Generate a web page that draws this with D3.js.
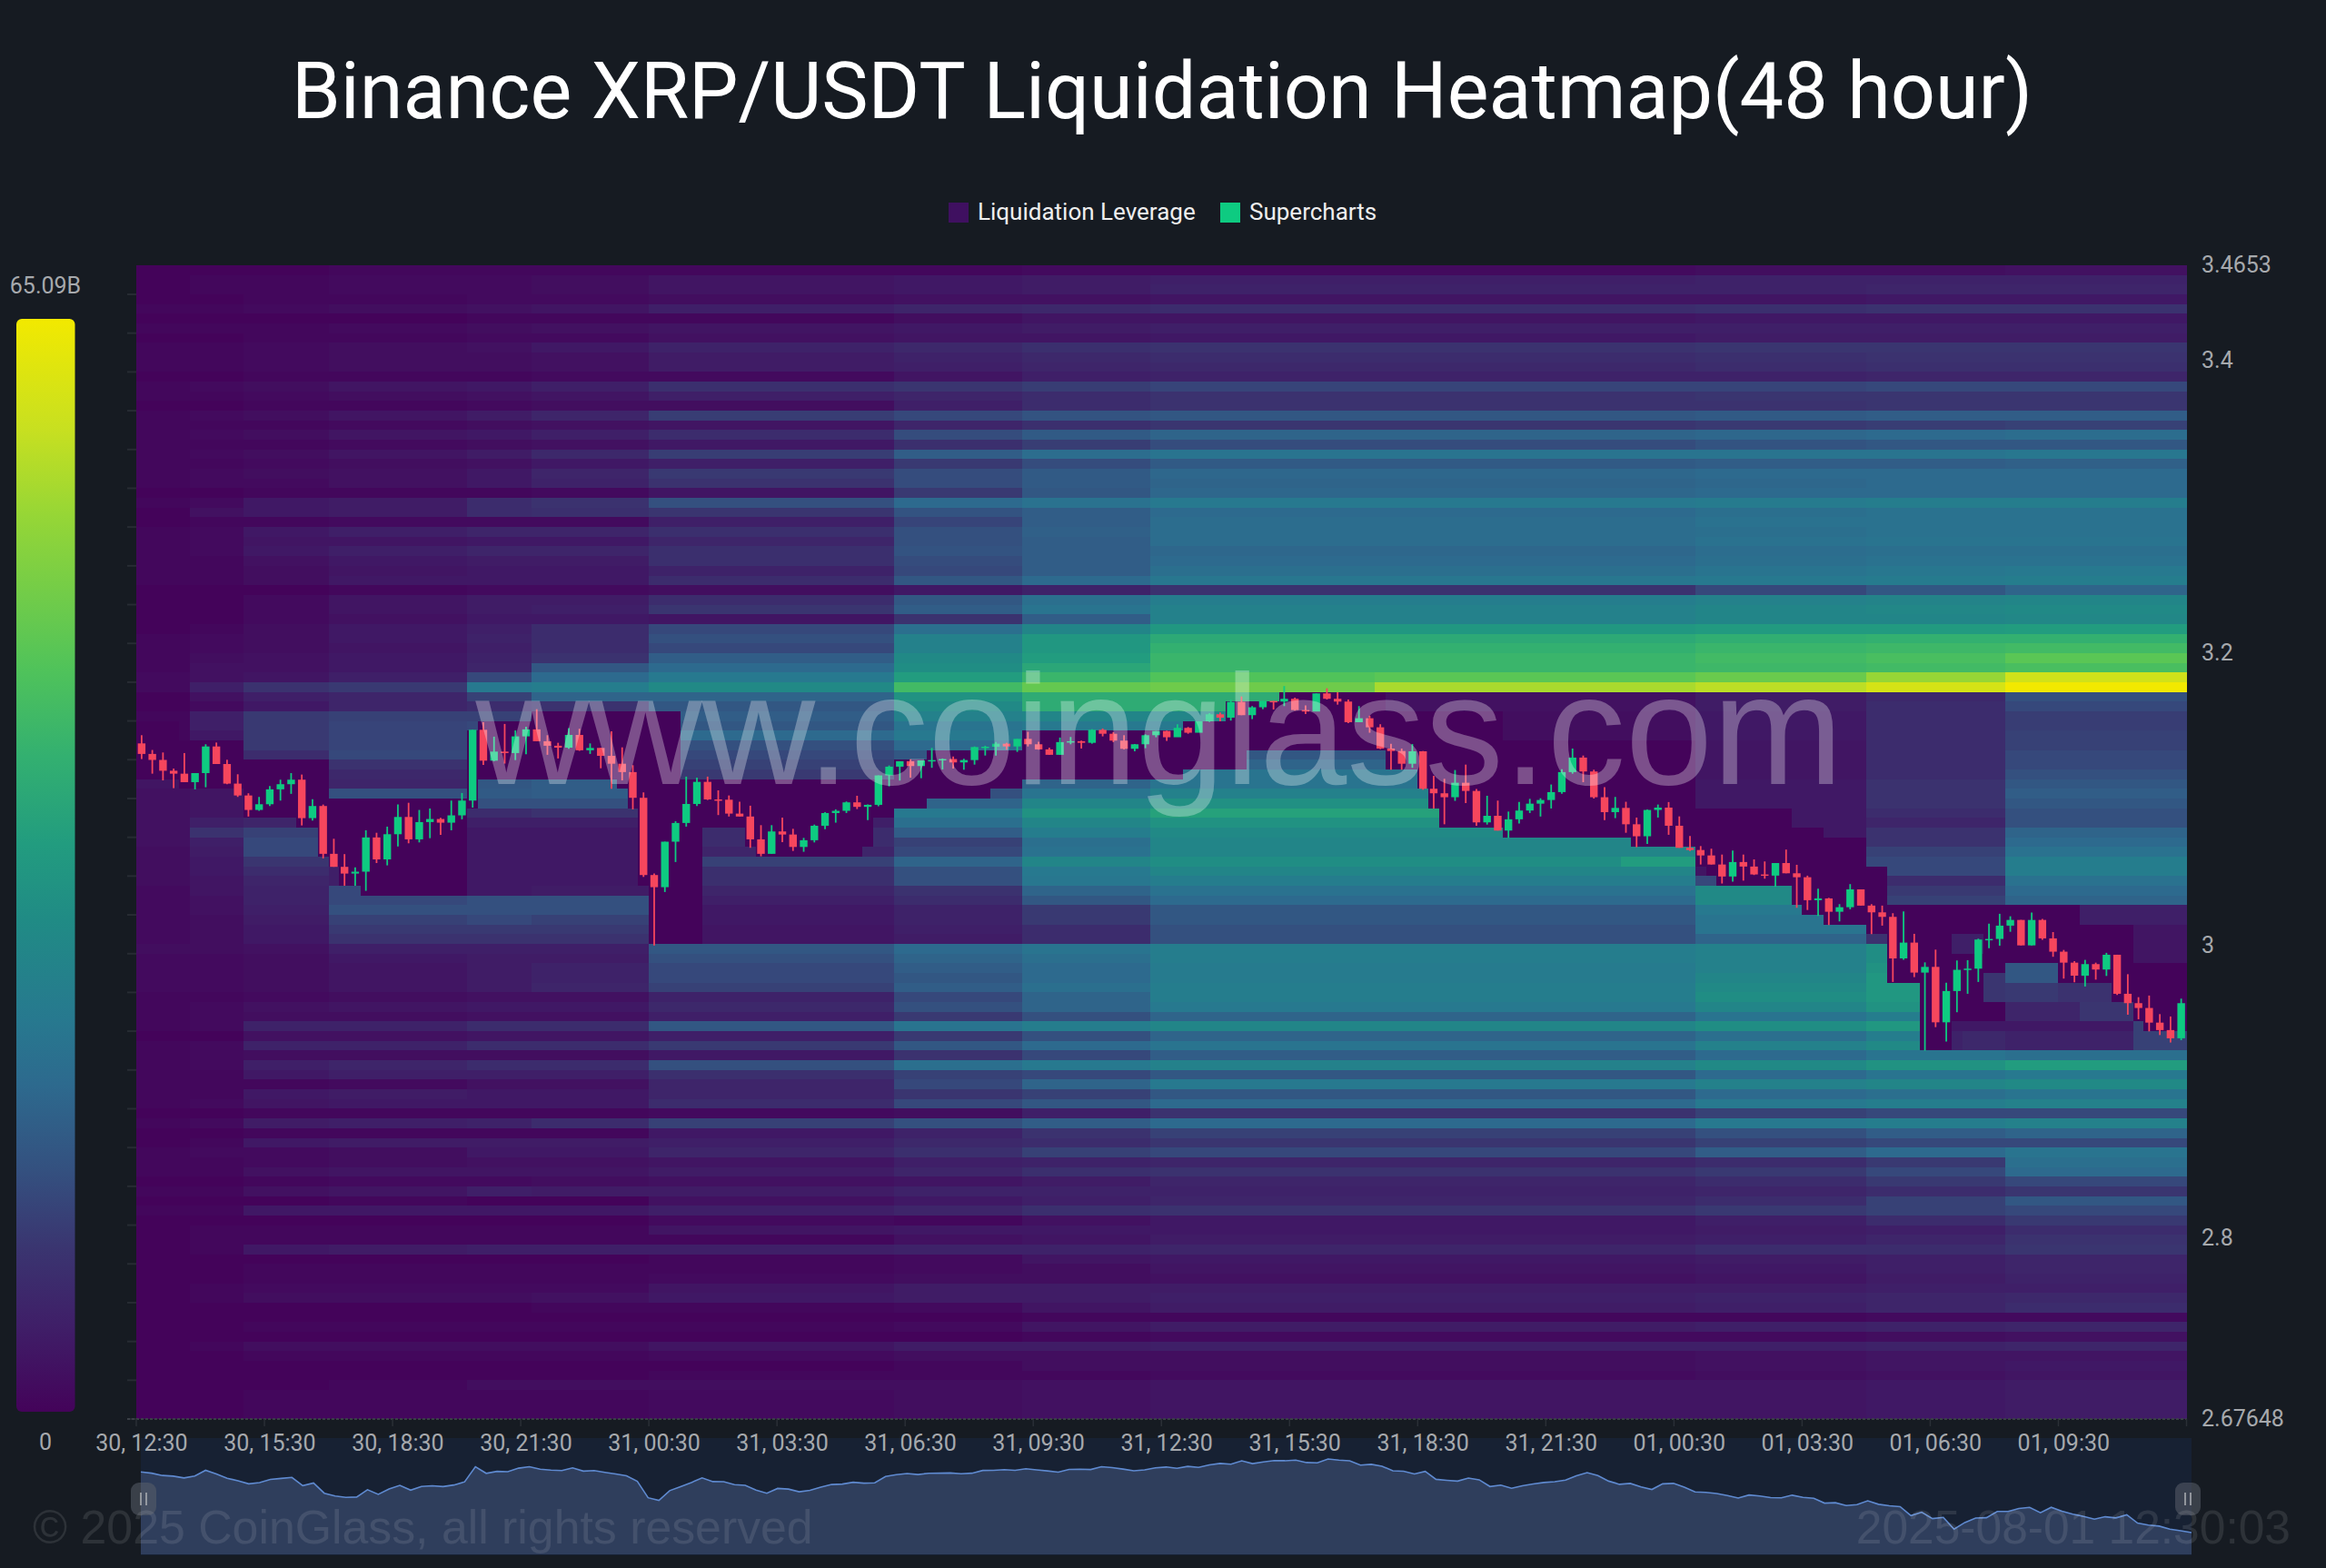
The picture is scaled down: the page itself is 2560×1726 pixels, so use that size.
<!DOCTYPE html>
<html><head><meta charset="utf-8"><title>Binance XRP/USDT Liquidation Heatmap</title>
<script src="https://cdn.jsdelivr.net/npm/d3@7/dist/d3.min.js"></script>
<style>html,body{margin:0;padding:0;background:#161b22}svg{display:block}</style></head>
<body><div id="chart"></div>
<script>
const titleText = "Binance XRP/USDT Liquidation Heatmap(48 hour)";
const legendNames = ["Liquidation Leverage", "Supercharts"];
const priceMin = 2.67648, priceMax = 3.4653, levelCount = 119, candleCount = 192;
const priceTicks = [3.4653, 3.4, 3.2, 3, 2.8, 2.67648];
const priceTickLabels = ["3.4653", "3.4", "3.2", "3", "2.8", "2.67648"];
const timeLabels = ["30, 12:30","30, 15:30","30, 18:30","30, 21:30","31, 00:30","31, 03:30","31, 06:30","31, 09:30","31, 12:30","31, 15:30","31, 18:30","31, 21:30","01, 00:30","01, 03:30","01, 06:30","01, 09:30"];
const colorValues = [0,8,15,22,30,36,45,52,60,68,82,90,100];
const colorStops = ["#44035a","#3f1f68","#3a3570","#34507f","#2d6a8e","#27798f","#208b85","#229c7f","#33b070","#50c35a","#96d636","#c8e020","#f2e900"];

// first candle index of each heat segment
const segmentStarts = [0,5,10,18,31,37,48,71,83,95,146,162,175];
// intensity per price level (bottom level first), one value per segment
const heatLevels = [
[0,0,1,1,1,1,2,3,4,5,5,6,7],[0,0,1,1,1,1,2,3,4,5,5,6,7],[0,0,1,1,1,1,2,3,4,5,5,6,7],[0,0,0,1,3,3,3,3,4,5,5,6,7],
[0,0,0,0,0,0,1,1,1,2,3,4,5],[0,0,0,0,0,0,0,1,3,3,4,5,6],[0,0,1,1,1,1,2,3,3,3,4,5,5],[0,1,3,3,3,3,5,7,7,8,8,9,10],
[0,0,0,0,0,0,0,0,1,2,2,3,4],[0,0,1,1,1,1,1,2,5,7,8,9,10],[0,0,0,0,0,0,0,0,1,1,1,2,2],[0,0,0,0,0,1,1,2,5,7,8,10,12],
[0,1,3,3,3,4,6,7,7,8,9,10,11],[0,1,2,2,2,2,5,7,7,7,7,8,8],[0,0,1,1,1,1,2,3,3,4,5,7,9],[0,0,1,1,1,1,1,2,3,5,6,8,10],
[0,0,0,0,0,0,1,2,5,6,7,8,10],[0,1,6,7,8,8,8,9,9,10,12,12,15],[0,1,1,1,1,1,1,4,5,7,8,10,14],[0,1,1,1,1,1,5,6,6,6,7,8,12],
[0,0,0,0,0,0,2,1,4,6,8,12,16],[1,1,6,6,6,6,8,10,13,14,16,18,20],[0,0,0,1,0,0,4,6,8,10,12,18,24],[1,1,4,5,8,7,7,9,9,9,10,12,15],
[0,0,1,2,2,3,4,5,7,10,12,16,20],[1,1,4,5,5,5,7,10,13,14,16,20,30],[1,1,2,3,4,4,5,8,9,10,12,16,32],[1,2,2,3,6,6,10,13,18,20,26,30,34],
[0,1,6,7,7,7,8,11,12,15,18,20,20],[0,0,1,1,1,1,6,9,14,18,22,26,28],[1,2,7,8,9,12,18,22,26,30,36,38,40],[0,0,1,1,1,1,2,3,8,14,18,20,20],
[1,2,5,6,6,6,12,20,24,30,36,38,40],[1,1,6,7,6,6,10,15,18,24,30,32,34],[1,1,1,2,4,4,10,20,28,36,40,42,44],[1,1,6,8,8,8,13,18,20,24,30,34,36],
[1,2,8,10,12,12,22,32,36,40,44,48,52],[1,2,3,3,3,3,6,14,20,26,30,34,32],[1,2,9,9,12,12,16,24,30,34,40,44,40],[0,0,4,4,5,5,8,16,22,28,32,38,40],
[1,2,9,9,12,12,24,34,38,42,46,50,40],[1,2,3,3,4,4,8,16,22,28,34,38,40],[1,2,4,5,6,6,11,22,28,36,42,48,40],[1,1,2,3,4,4,9,20,28,38,46,50,40],
[2,2,3,5,7,10,18,26,32,38,44,50,40],[2,2,3,5,7,9,20,24,30,37,42,50,40],[2,2,3,5,7,9,20,26,30,37,40,48,40],[2,2,3,6,7,7,22,28,32,38,40,46,40],
[3,3,4,8,8,8,24,30,34,38,40,46,40],
[2,3,6,14,14,14,5,7,12,22,28,14,30],[2,3,6,16,16,16,5,8,12,22,34,14,30],[2,3,7,18,20,18,6,9,16,24,34,14,8],[2,4,8,22,22,22,6,9,16,24,36,14,8],
[2,4,9,20,22,22,8,12,24,30,44,18,28],[2,5,9,20,6,7,10,14,28,33,44,16,30],[3,5,10,8,6,6,13,22,35,38,20,12,33],[3,6,12,8,6,6,13,22,36,42,5,20,38],
[3,6,15,8,6,6,18,28,42,46,5,20,38],[3,7,20,8,6,6,10,20,33,42,5,18,33],[4,8,20,8,6,6,12,18,32,42,6,14,30],[4,14,18,18,6,6,12,26,38,44,6,14,28],
[4,8,10,8,8,8,8,32,42,48,6,10,22],[4,5,8,6,12,14,8,36,48,54,6,12,22],[4,5,6,6,22,22,8,28,42,47,6,14,24],[4,5,8,22,25,26,8,22,34,40,6,14,26],
[5,6,8,10,24,26,12,20,28,34,6,14,24],[1,5,8,11,12,15,16,18,24,34,5,12,22],[1,5,8,14,14,15,18,20,22,28,5,12,20],[1,5,12,20,20,20,20,24,24,24,5,12,20],
[1,5,16,19,20,22,22,30,30,10,5,12,18],[1,6,16,19,20,22,30,36,36,3,6,12,18],[1,8,16,19,20,20,24,34,36,3,6,12,17],[1,8,16,18,18,18,26,40,42,3,6,12,17],
[0,2,6,10,12,14,24,44,58,4,7,12,20],[0,4,8,10,18,28,28,48,58,4,7,11,22],[2,8,14,16,36,38,44,64,72,85,88,93,100],
[2,4,5,8,20,30,36,52,62,70,73,82,92],[1,4,4,6,10,24,30,46,56,62,63,64,66],[1,3,4,6,9,14,26,44,52,62,64,66,70],[1,2,3,5,8,12,20,40,50,60,62,63,64],
[1,2,3,6,9,12,22,40,50,57,59,60,60],[0,1,3,6,8,12,20,32,42,50,51,51,52],[0,0,2,4,6,6,5,14,26,40,42,42,43],[0,0,2,5,7,8,15,26,34,40,42,43,44],
[0,0,2,5,7,7,12,24,32,38,40,41,42],[0,0,0,1,2,2,3,6,9,14,20,24,28],[1,1,3,6,6,6,12,24,30,35,36,37,38],[1,1,3,5,6,6,9,20,26,32,34,35,36],
[1,1,4,6,7,7,13,21,26,30,32,33,33],[1,2,6,8,10,10,13,23,26,29,31,32,32],[1,2,5,5,6,6,10,22,26,31,33,34,34],[1,2,6,8,10,10,13,22,27,31,32,33,33],
[0,1,1,2,2,2,8,19,26,31,33,33,33],[0,4,6,7,12,13,15,23,26,30,32,33,33],[1,2,6,7,12,14,22,30,33,36,37,38,38],[0,0,1,1,1,2,5,16,24,29,30,30,30],
[1,2,2,4,6,9,14,21,25,28,29,30,30],[1,2,3,4,6,10,16,21,25,29,30,30,30],[1,1,2,3,4,6,8,16,21,25,26,26,27],[1,2,3,5,7,11,17,26,31,34,34,34,35],
[1,1,1,2,3,4,6,13,17,21,23,24,24],[1,2,3,5,6,8,12,21,25,28,29,30,31],[1,1,1,2,3,4,5,10,13,15,16,17,18],[1,2,3,5,7,10,17,20,23,24,25,26,26],
[0,0,1,1,2,3,3,8,12,14,14,15,15],[1,1,2,3,4,5,8,10,12,14,15,15,15],[1,2,3,5,6,8,13,15,17,19,19,20,20],[0,0,1,1,1,2,2,5,8,9,9,10,10],
[1,1,2,3,3,4,7,8,10,11,12,13,13],[1,1,2,3,3,4,7,9,11,12,13,14,14],[1,1,2,3,4,6,9,11,13,14,15,15,15],[0,0,1,1,2,2,4,5,5,6,7,7,7],
[1,1,1,2,3,4,5,6,7,8,8,8,8],[0,0,0,0,1,1,1,3,5,5,6,6,6],[1,1,2,3,4,5,8,10,11,12,13,14,14],[0,0,1,1,2,2,3,4,4,5,5,6,6],
[0,1,1,2,2,3,5,6,7,9,9,10,10],[0,1,1,2,2,3,5,6,7,8,9,9,9],[0,0,0,1,1,1,1,1,2,2,3,3,4]
];
// levels cleared by price: [first candle, lowest level, level above the highest]
const clearedBands = [
[0,66,72],[4,65,70],[10,62,68],[15,61,68],[17,58,68],[18,57,64],[19,55,64],[21,54,64],[31,63,71],[32,66,72],[37,66,73],[45,65,73],[46,63,73],[47,55,73],
[48,49,73],[51,49,66],[53,61,66],[57,59,66],[58,58,66],[68,59,66],[69,62,66],[71,63,68],[74,64,69],[80,65,69],[83,66,71],[98,67,72],[102,67,74],[104,69,74],[107,69,75],
[117,67,73],[120,65,73],[121,63,73],[122,61,73],[128,60,70],[140,59,70],[146,57,63],[147,56,63],[148,55,63],[155,53,61],[156,52,61],[158,51,60],[162,50,57],[164,45,53],[167,38,53],[182,38,51]
];
// blocks that differ from their segment: [first candle, end candle, low level, high level, intensity]
const regrowBlocks = [
[95,116,76,77,68],[95,116,75,76,74],[95,102,73,75,58],[102,107,74,75,58],[95,102,72,73,42],[95,98,71,72,36],
[139,146,57,58,52],[170,173,48,50,8],[173,175,43,46,15],[175,180,45,47,24],[175,180,43,45,16],[180,185,43,45,14],[175,182,41,43,10],[182,187,41,43,15],
[186,188,39,41,18],[170,187,40,41,6],[170,187,38,40,9],[187,192,38,40,18],[187,192,47,51,5],[171,175,38,40,11]
];

const candleOpen0 = 3.1384;
const candleClose = [3.1312,3.1271,3.1197,3.1177,3.1119,3.1181,3.1363,3.1243,3.1109,3.1028,3.0929,3.0968,3.1070,3.1105,3.1136,3.0873,3.0956,3.0629,3.0540,3.0494,3.0507,3.0741,3.0591,3.0763,3.0881,3.0728,3.0846,3.0867,3.0842,3.0892,3.0993,3.1477,3.1266,3.1328,3.1318,3.1432,3.1480,3.1399,3.1368,3.1355,3.1442,3.1337,3.1353,3.1299,3.1245,3.1188,3.1012,3.0484,3.0401,3.0712,3.0840,3.0970,3.1121,3.1001,3.0999,3.0904,3.0884,3.0728,3.0629,3.0782,3.0761,3.0676,3.0722,3.0821,3.0908,3.0923,3.0981,3.0950,3.0964,3.1165,3.1225,3.1262,3.1229,3.1268,3.1270,3.1277,3.1254,3.1270,3.1359,3.1361,3.1382,3.1363,3.1415,3.1378,3.1343,3.1306,3.1393,3.1399,3.1388,3.1477,3.1450,3.1403,3.1347,3.1378,3.1440,3.1469,3.1426,3.1490,3.1457,3.1535,3.1583,3.1560,3.1668,3.1577,3.1631,3.1674,3.1670,3.1689,3.1612,3.1602,3.1726,3.1689,3.1670,3.1529,3.1556,3.1494,3.1349,3.1332,3.1245,3.1330,3.1074,3.1043,3.1016,3.1115,3.1059,3.0844,3.0889,3.0788,3.0865,3.0925,3.0972,3.0997,3.1051,3.1188,3.1287,3.1192,3.1016,3.0914,3.0943,3.0831,3.0749,3.0929,3.0945,3.0821,3.0670,3.0655,3.0618,3.0556,3.0474,3.0573,3.0542,3.0488,3.0480,3.0566,3.0496,3.0469,3.0312,3.0324,3.0233,3.0264,3.0386,3.0275,3.0229,3.0198,2.9914,3.0022,2.9817,2.9856,2.9477,2.9691,2.9836,2.9844,3.0043,3.0047,3.0138,3.0177,3.0003,3.0177,3.0051,2.9960,2.9885,2.9796,2.9875,2.9838,2.9939,2.9672,2.9608,2.9575,2.9475,2.9424,2.9368,2.9608];
const candleHigh = [3.1440,3.1339,3.1322,3.1212,3.1318,3.1181,3.1378,3.1390,3.1272,3.1173,3.1043,3.1018,3.1092,3.1136,3.1181,3.1171,3.1003,3.0966,3.0732,3.0627,3.0536,3.0790,3.0773,3.0815,3.0966,3.0978,3.0929,3.0939,3.0875,3.0993,3.1045,3.1477,3.1529,3.1430,3.1517,3.1473,3.1498,3.1618,3.1440,3.1388,3.1488,3.1484,3.1384,3.1355,3.1467,3.1357,3.1235,3.1049,3.0494,3.0712,3.0852,3.1157,3.1150,3.1157,3.1063,3.1028,3.0985,3.0958,3.0825,3.0825,3.0877,3.0800,3.0738,3.0829,3.0914,3.0933,3.0987,3.1026,3.0966,3.1165,3.1233,3.1262,3.1275,3.1268,3.1353,3.1281,3.1295,3.1279,3.1363,3.1368,3.1393,3.1388,3.1415,3.1463,3.1395,3.1355,3.1424,3.1428,3.1403,3.1481,3.1486,3.1461,3.1440,3.1380,3.1446,3.1469,3.1471,3.1515,3.1496,3.1535,3.1591,3.1595,3.1684,3.1705,3.1639,3.1674,3.1674,3.1776,3.1697,3.1643,3.1726,3.1761,3.1734,3.1684,3.1639,3.1573,3.1515,3.1382,3.1349,3.1380,3.1332,3.1163,3.1142,3.1202,3.1239,3.1072,3.1026,3.0993,3.0918,3.0983,3.1005,3.1009,3.1103,3.1208,3.1349,3.1301,3.1204,3.1084,3.1018,3.0985,3.0877,3.0933,3.0966,3.0983,3.0885,3.0751,3.0682,3.0664,3.0624,3.0652,3.0624,3.0591,3.0577,3.0566,3.0658,3.0554,3.0480,3.0391,3.0328,3.0285,3.0422,3.0386,3.0285,3.0275,3.0223,3.0235,3.0082,2.9887,2.9974,2.9747,2.9900,2.9902,3.0049,3.0152,3.0219,3.0202,3.0177,3.0227,3.0184,3.0094,2.9972,2.9896,2.9904,2.9885,2.9952,2.9939,2.9806,2.9649,2.9660,2.9533,2.9517,2.9639];
const candleLow = [3.1277,3.1177,3.1131,3.1078,3.1119,3.1070,3.1084,3.1243,3.1105,3.1018,3.0884,3.0923,3.0956,3.0993,3.1039,3.0823,3.0856,3.0598,3.0540,3.0411,3.0411,3.0376,3.0566,3.0550,3.0680,3.0701,3.0707,3.0736,3.0759,3.0790,3.0865,3.0945,3.1237,3.1262,3.1246,3.1270,3.1310,3.1399,3.1306,3.1281,3.1347,3.1333,3.1312,3.1214,3.1074,3.1131,3.0933,3.0471,3.0003,3.0368,3.0573,3.0815,3.0956,3.0997,3.0894,3.0884,3.0884,3.0670,3.0612,3.0629,3.0709,3.0649,3.0643,3.0707,3.0798,3.0842,3.0908,3.0935,3.0860,3.0954,3.1090,3.1130,3.1150,3.1146,3.1217,3.1206,3.1212,3.1204,3.1239,3.1301,3.1301,3.1341,3.1326,3.1363,3.1341,3.1306,3.1306,3.1378,3.1349,3.1382,3.1432,3.1393,3.1343,3.1330,3.1351,3.1426,3.1401,3.1432,3.1450,3.1461,3.1531,3.1535,3.1540,3.1577,3.1550,3.1618,3.1616,3.1639,3.1608,3.1585,3.1610,3.1684,3.1649,3.1523,3.1531,3.1457,3.1345,3.1204,3.1204,3.1217,3.1067,3.0939,3.0831,3.0991,3.0976,3.0821,3.0829,3.0788,3.0738,3.0836,3.0908,3.0884,3.0939,3.1039,3.1177,3.1119,3.1007,3.0860,3.0873,3.0773,3.0674,3.0697,3.0877,3.0759,3.0670,3.0649,3.0556,3.0556,3.0426,3.0438,3.0446,3.0484,3.0459,3.0405,3.0496,3.0260,3.0245,3.0204,3.0142,3.0167,3.0250,3.0275,3.0080,3.0138,2.9753,2.9904,2.9786,2.9283,2.9444,2.9345,2.9546,2.9672,2.9753,2.9983,3.0001,3.0096,3.0003,3.0003,3.0041,2.9925,2.9776,2.9751,2.9722,2.9769,2.9794,2.9664,2.9529,2.9498,2.9415,2.9390,2.9339,2.9355];

const W = 2560, H = 1726;
const bg = "#161b22", upColor = "#0ecb81", downColor = "#f6465d";
const svg = d3.select("#chart").append("svg").attr("width", W).attr("height", H).style("background", bg);
const sans = "Roboto, 'Liberation Sans', sans-serif", arial = "'Liberation Sans', Arial, sans-serif";

const candleIdx = d3.range(candleCount);
const x = d3.scaleBand().domain(candleIdx).range([150, 2406.5]);
const y = d3.scaleLinear().domain([priceMin, priceMax]).range([1562, 292]);
const color = d3.scaleLinear().domain(colorValues).range(colorStops).clamp(true);
const levelStep = (priceMax - priceMin) / levelCount;

svg.append("text").attr("x", 1279).attr("y", 130).attr("text-anchor", "middle")
  .attr("font-family", sans).attr("font-size", 86.4).attr("fill", "#fff").text(titleText);

// legend
const legend = svg.append("g");
[[1044, "#3f1060", 1076], [1343, upColor, 1375]].forEach((d, i) => {
  legend.append("rect").attr("x", d[0]).attr("y", 223).attr("width", 22).attr("height", 22).attr("fill", d[1]);
  legend.append("text").attr("x", d[2]).attr("y", 242).attr("font-family", sans).attr("font-size", 26).attr("fill", "#eee").text(legendNames[i]);
});

// heat cells: merge runs of equal value along each level
function cellValue(level, col) {
  for (let k = regrowBlocks.length - 1; k >= 0; k--) {
    const b = regrowBlocks[k];
    if (col >= b[0] && col < b[1] && level >= b[2] && level < b[3]) return b[4];
  }
  const band = clearedBands[d3.bisectRight(clearedBands.map(b => b[0]), col) - 1];
  if (level >= band[1] && level < band[2]) return 0;
  return heatLevels[level][d3.bisectRight(segmentStarts, col) - 1];
}
const runs = [];
heatLevels.forEach((_, level) => {
  let start = 0, v = cellValue(level, 0);
  for (let c = 1; c <= candleCount; c++) {
    const nv = c < candleCount ? cellValue(level, c) : null;
    if (nv !== v) { runs.push({level, start, end: c, v}); start = c; v = nv; }
  }
});
svg.append("g").attr("shape-rendering", "crispEdges").selectAll("rect").data(runs).join("rect")
  .attr("x", d => x(d.start))
  .attr("width", d => x(d.end - 1) + x.bandwidth() - x(d.start))
  .attr("y", d => y(priceMin + (d.level + 1) * levelStep))
  .attr("height", d => y(priceMin + d.level * levelStep) - y(priceMin + (d.level + 1) * levelStep))
  .attr("fill", d => color(d.v));

// level ticks on the left of the heatmap
svg.append("g").selectAll("line").data(d3.range(0, levelCount + 1, 4)).join("line")
  .attr("x1", 140).attr("x2", 150)
  .attr("y1", d => y(priceMin + d * levelStep)).attr("y2", d => y(priceMin + d * levelStep))
  .attr("stroke", "#272c33").attr("stroke-width", 2);

// candles
const candles = candleIdx.map(i => ({i, o: i ? candleClose[i - 1] : candleOpen0, c: candleClose[i], h: candleHigh[i], l: candleLow[i]}));
const cg = svg.append("g");
cg.selectAll("line").data(candles).join("line")
  .attr("x1", d => x(d.i) + x.bandwidth() / 2).attr("x2", d => x(d.i) + x.bandwidth() / 2)
  .attr("y1", d => y(d.h)).attr("y2", d => y(d.l))
  .attr("stroke", d => d.c >= d.o ? upColor : downColor).attr("stroke-width", 1.8);
cg.selectAll("rect").data(candles).join("rect")
  .attr("x", d => x(d.i) + x.bandwidth() / 2 - 4.2).attr("width", 8.4)
  .attr("y", d => y(Math.max(d.o, d.c)))
  .attr("height", d => Math.max(1.5, Math.abs(y(d.o) - y(d.c))))
  .attr("fill", d => d.c >= d.o ? upColor : downColor);

// watermark
svg.append("text").attr("x", 1276).attr("y", 863).attr("text-anchor", "middle")
  .attr("font-family", arial).attr("font-size", 172.5).attr("fill", "rgba(255,255,255,0.3)").text("www.coinglass.com");

// x axis
const axisG = svg.append("g");
axisG.append("line").attr("x1", 140).attr("x2", 2406.5).attr("y1", 1562).attr("y2", 1562)
  .attr("stroke", "#3a3f46").attr("stroke-width", 2).attr("stroke-dasharray", "3 2");
axisG.selectAll("line.t").data(timeLabels.concat("")).join("line").attr("class", "t")
  .attr("x1", (d, i) => i < 16 ? x(i * 12) : 2406.5).attr("x2", (d, i) => i < 16 ? x(i * 12) : 2406.5)
  .attr("y1", 1562).attr("y2", 1570).attr("stroke", "#2a2f36").attr("stroke-width", 1.5);

// overview slider
const sliderSeries = candleClose.slice(0, 191);
const sx = d3.scaleLinear().domain([0, sliderSeries.length - 1]).range([155, 2412]);
const sy = d3.scaleLinear().domain(d3.extent(sliderSeries)).range([1687, 1606]);
svg.append("rect").attr("x", 155).attr("y", 1583).attr("width", 2257).attr("height", 129).attr("fill", "#172133");
svg.append("path").datum(sliderSeries)
  .attr("d", d3.area().x((d, i) => sx(i)).y0(1711).y1(d => sy(d))).attr("fill", "#2f3e5c");
svg.append("path").datum(sliderSeries).attr("fill", "none").attr("stroke", "#5f8ad0").attr("stroke-width", 1.6)
  .attr("d", d3.line().x((d, i) => sx(i)).y(d => sy(d)));
[158, 2408].forEach(cx => {
  svg.append("rect").attr("x", cx - 14).attr("y", 1632).attr("width", 28).attr("height", 36).attr("rx", 9).attr("fill", "rgba(90,95,105,0.55)");
  [-3, 3].forEach(dx => svg.append("line").attr("x1", cx + dx).attr("x2", cx + dx).attr("y1", 1643).attr("y2", 1657).attr("stroke", "#a8abb0").attr("stroke-width", 1.6));
});

// time labels
axisG.raise();
axisG.selectAll("text").data(timeLabels).join("text")
  .attr("x", (d, i) => x(i * 12) + x.bandwidth() / 2).attr("y", 1597).attr("text-anchor", "middle")
  .attr("font-family", sans).attr("font-size", 25).attr("fill", "#a6a9ad").text(d => d);

// price labels
svg.append("g").selectAll("text").data(priceTicks).join("text")
  .attr("x", 2423).attr("y", d => y(d) + 8)
  .attr("font-family", sans).attr("font-size", 25).attr("fill", "#a6a9ad").text((d, i) => priceTickLabels[i]);

// colour bar
const defs = svg.append("defs");
const grad = defs.append("linearGradient").attr("id", "cbar").attr("x1", 0).attr("y1", 1).attr("x2", 0).attr("y2", 0);
colorValues.forEach((v, i) => grad.append("stop").attr("offset", v / 100).attr("stop-color", colorStops[i]));
svg.append("rect").attr("x", 18).attr("y", 351).attr("width", 64.5).attr("height", 1203).attr("rx", 6).attr("fill", "url(#cbar)");
svg.append("text").attr("x", 50).attr("y", 323).attr("text-anchor", "middle").attr("font-family", sans).attr("font-size", 25).attr("fill", "#a6a9ad").text("65.09B");
svg.append("text").attr("x", 50).attr("y", 1596).attr("text-anchor", "middle").attr("font-family", sans).attr("font-size", 25).attr("fill", "#a6a9ad").text("0");

// footer marks
svg.append("text").attr("x", 36).attr("y", 1699).attr("font-family", arial).attr("font-size", 51.8).attr("fill", "rgba(255,255,255,0.1)").text("\u00a9 2025 CoinGlass, all rights reserved");
svg.append("text").attr("x", 2521).attr("y", 1699).attr("text-anchor", "end").attr("font-family", arial).attr("font-size", 51.5).attr("fill", "rgba(255,255,255,0.1)").text("2025-08-01 12:30:03");
</script></body></html>
